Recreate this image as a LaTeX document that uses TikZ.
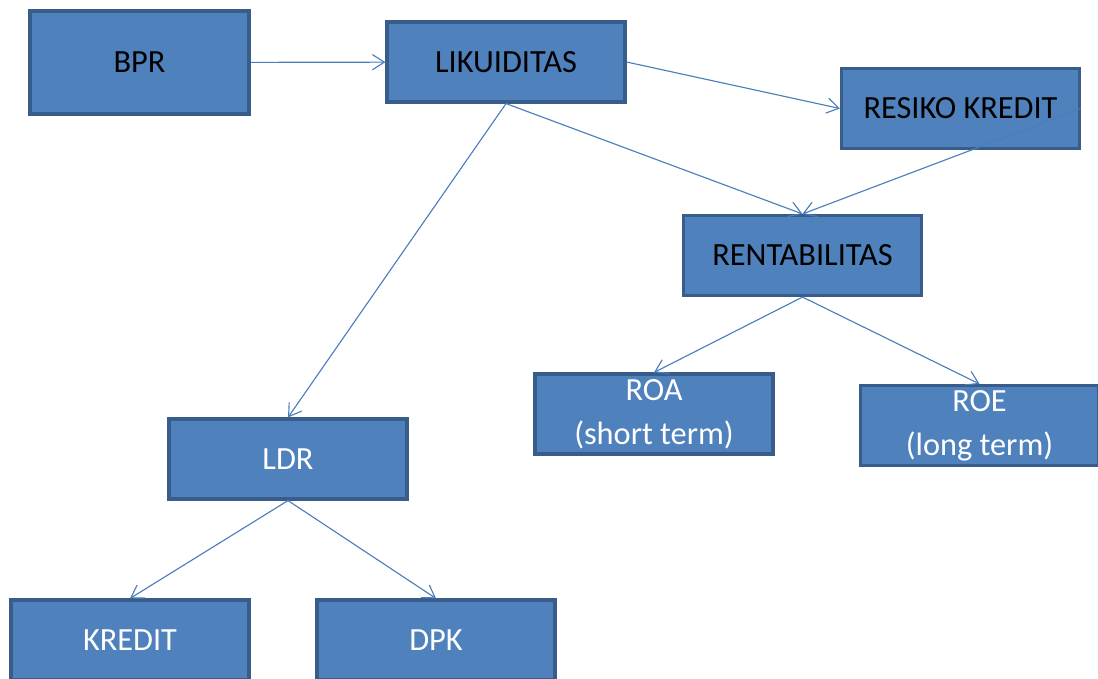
\documentclass[tikz,border=0pt]{standalone}
\usepackage{fontspec}
\setmainfont{Carlito}
\usetikzlibrary{arrows.meta}
\definecolor{boxfill}{HTML}{4F81BD}
\definecolor{boxline}{HTML}{385D8A}
\definecolor{linkline}{HTML}{4A7EBB}
\begin{document}
\begin{tikzpicture}[x=0.025cm, y=-0.025cm,
                    every node/.style={rectangle, draw=boxline, line width=2.2pt, fill=boxfill, inner sep=0pt, minimum width=5.95cm, minimum height=2cm, align=center, font=\fontsize{23}{31}\selectfont},
                    edge_style/.style={draw=linkline, line width=0.8pt, -{Straight Barb[length=3mm, width=3.8mm]}}]
                    \useasboundingbox (0,0) rectangle (1098,678);
                    \node (bpr) at (139.5, 62.5) [minimum width=5.475cm, minimum height=2.575cm] {BPR};
                    \node (likuiditas) at (506, 62) {LIKUIDITAS};
                    \node (resiko) at (960.5, 108.5) {RESIKO KREDIT};
                    \node (rentabilitas) at (802.5, 255.5) {RENTABILITAS};
                    \node (roa) at (654, 414) [text=white] {ROA\\(short term)};
                    \node (roe) at (979.5, 425.5) [text=white] {ROE\\(long term)};
                    \node (ldr) at (288, 459) [text=white] {LDR};
                    \node (kredit) at (130, 640) [text=white] {KREDIT};
                    \node (dpk) at (436, 640) [text=white] {DPK};
                    \draw (bpr) edge[edge_style] (likuiditas);
                    \draw (likuiditas.east) edge[edge_style] (resiko.west);
                    \draw (likuiditas.south) edge[edge_style] (rentabilitas.north);
                    \draw (resiko.east) edge[edge_style] (rentabilitas.north);
                    \draw (likuiditas.south) edge[edge_style] (ldr.north);
                    \draw (rentabilitas.south) edge[edge_style] (roa.north);
                    \draw (rentabilitas.south) edge[edge_style] (roe.north);
                    \draw (ldr.south) edge[edge_style] (kredit.north);
                    \draw (ldr.south) edge[edge_style] (dpk.north);
                \end{tikzpicture}
\end{document}
